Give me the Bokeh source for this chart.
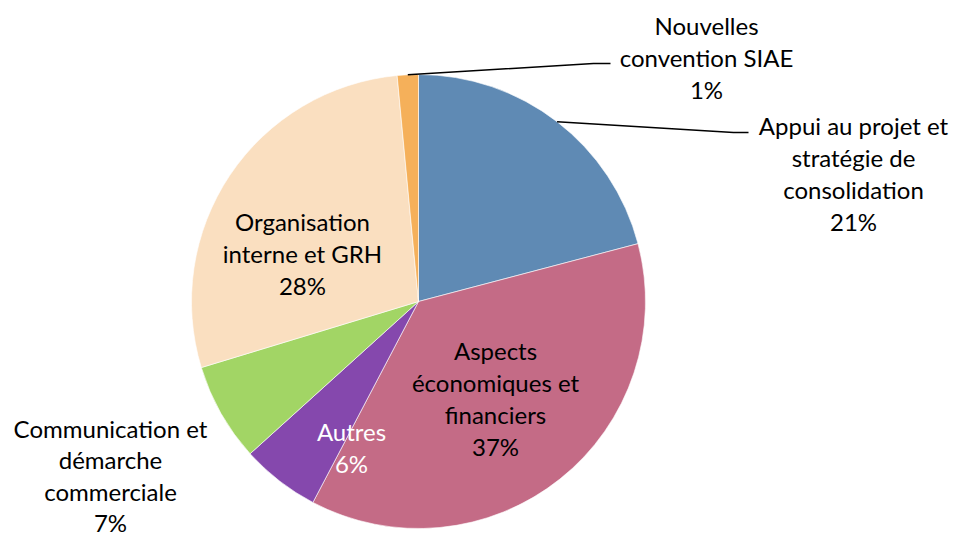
import math
from bokeh.plotting import figure
from bokeh.models import Range1d, ColumnDataSource
from bokeh.core.properties import value
from bokeh.embed import file_html
from bokeh.resources import INLINE

# ---- data ----
categories = [
    "Appui au projet et\nstratégie de\nconsolidation",
    "Aspects\néconomiques et\nfinanciers",
    "Autres",
    "Communication et\ndémarche\ncommerciale",
    "Organisation\ninterne et GRH",
    "Nouvelles\nconvention SIAE",
]
shares = [20.9, 36.8, 5.6, 7.0, 28.2, 1.5]
pct_labels = ["21%", "37%", "6%", "7%", "28%", "1%"]
colors = ["#5f8ab4", "#c46b86", "#8548ad", "#a2d565", "#fadfc0", "#f5b05a"]

W, H = 950, 541
FONT = "Lato"
FS = "24px"

p = figure(width=W, height=H, output_backend="svg", toolbar_location=None,
           x_range=Range1d(0, W), y_range=Range1d(0, H),
           min_border=0, min_border_left=0, min_border_right=0,
           min_border_top=0, min_border_bottom=0)
p.axis.visible = False
p.grid.visible = False
p.outline_line_color = None

def sy(y):
    return H - y

cx, cy, R = 418, sy(301), 227

total = sum(shares)
starts, ends, mids = [], [], []
a = math.pi / 2
for s in shares:
    da = 2 * math.pi * s / total
    starts.append(a - da)
    ends.append(a)
    mids.append(a - da / 2)
    a -= da

src = ColumnDataSource(dict(start=starts, end=ends, color=colors))
p.wedge(x=cx, y=cy, radius=R, start_angle="start", end_angle="end",
        fill_color="color", line_color="white", line_width=0.6, source=src)

text_colors = ["black", "black", "white", "black", "black", "black"]
# label block centres (layout, screen px)
anchors = [(853, 173), (495, 398), (351, 447), (110, 475), (302, 253), (706, 57)]
line_heights = [1.1, 1.1, 1.1, 1.08, 1.1, 1.1]

for i, (cat, pct) in enumerate(zip(categories, pct_labels)):
    txt = cat + "\n" + pct
    ax, ay = anchors[i]
    p.text(x=[ax], y=[sy(ay)], text=[txt], text_align="center",
           text_baseline="middle", text_font=value(FONT), text_font_size=FS,
           text_color=text_colors[i], text_line_height=line_heights[i])

# leader lines
def edge(i):
    m = mids[i]
    return cx + R * math.cos(m), cy + R * math.sin(m)

ex, ey = edge(5)
p.line(x=[ex, 593, 610], y=[ey, sy(63), sy(63)], line_color="black", line_width=1.5)
ex, ey = edge(0)
p.line(x=[ex, 733, 748], y=[ey, sy(132), sy(132)], line_color="black", line_width=1.5)

open("out.html", "w").write(file_html(p, INLINE))
